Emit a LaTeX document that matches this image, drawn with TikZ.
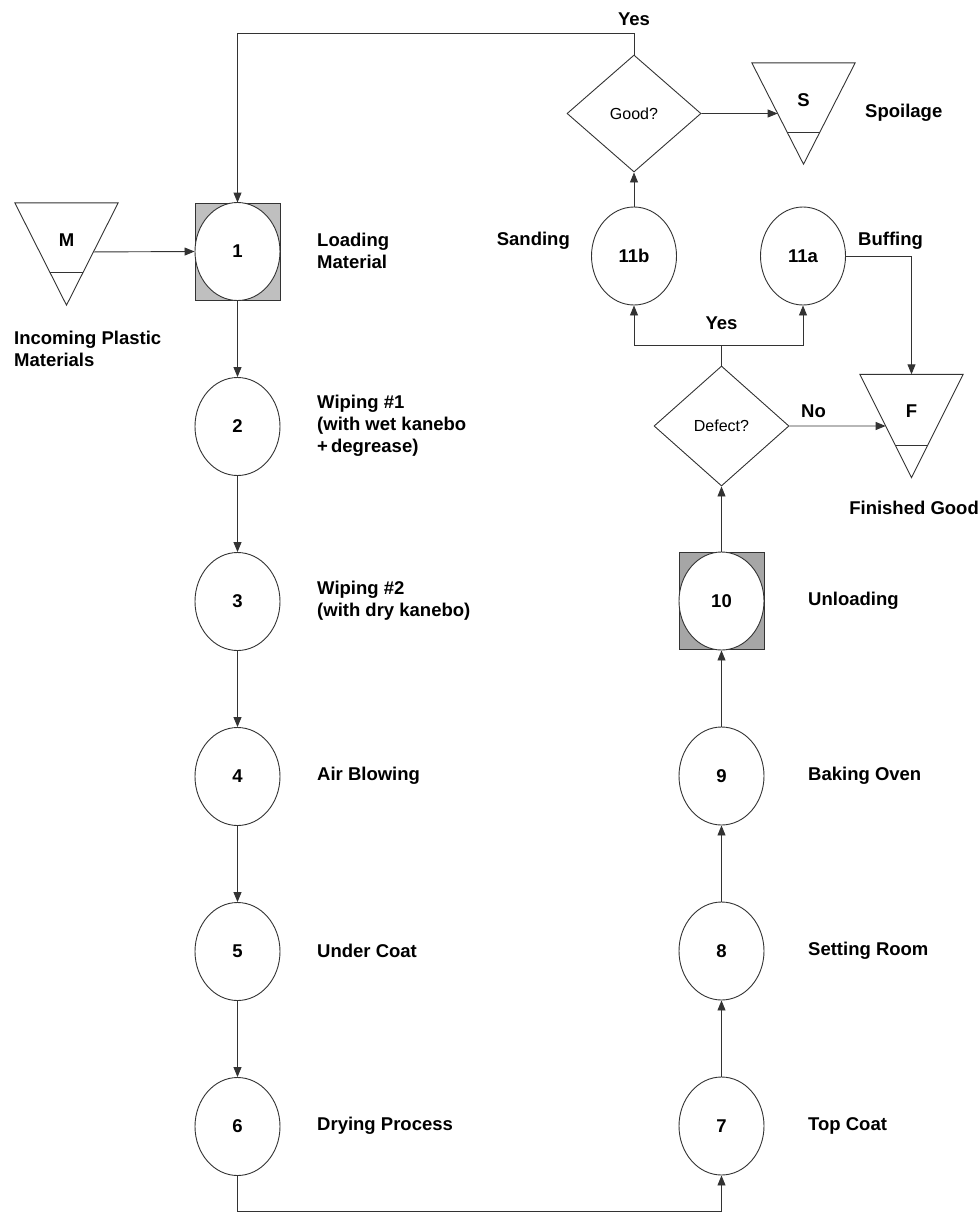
\documentclass[tikz,border=0pt]{standalone}
\usepackage{fontspec}
\setmainfont{Liberation Sans}
\usetikzlibrary{arrows.meta,shapes.geometric,positioning,calc}

\begin{document}
\begin{tikzpicture}[
    x=1pt, y=-1pt,
    proc/.style={draw=black!80, line width=0.9pt, ellipse, minimum width=85pt, minimum height=98pt, inner sep=0pt, fill=white, font=\bfseries\fontsize{18.5}{20}\selectfont},
    loadbox/.style={draw=black!80, line width=0.9pt, rectangle, minimum width=85pt, minimum height=97pt, inner sep=0pt},
    decision/.style={draw=black!80, line width=0.9pt, diamond, minimum width=135pt, minimum height=120pt, inner sep=0pt, font=\fontsize{16}{18}\selectfont},
    store/.style={minimum width=103pt, minimum height=102pt, inner sep=0pt},
    letter/.style={inner sep=0pt, font=\bfseries\fontsize{18.5}{20}\selectfont},
    note/.style={inner sep=0pt, align=left, font=\bfseries\fontsize{18.5}{22}\selectfont},
    link/.style={line width=0.9pt, draw=black!80},
    arrow/.style={link, -{Triangle[length=10pt, width=8pt]}}
]
\useasboundingbox (0,0) rectangle (980,1213);

% left column
\node[loadbox, fill=gray!50] (sq1) at (237.5,251.5) {};
\node[proc] (p1) at (sq1) {1};
\node[proc, below=76.1pt of p1] (p2) {2};
\node[proc, below=76.1pt of p2] (p3) {3};
\node[proc, below=76.1pt of p3] (p4) {4};
\node[proc, below=76.1pt of p4] (p5) {5};
\node[proc, below=76.1pt of p5] (p6) {6};

% right column
\node[loadbox, fill=gray!70] (sq10) at (721.5,601) {};
\node[proc] (p10) at (sq10) {10};
\node[proc, below=76.1pt of p10] (p9) {9};
\node[proc, below=76.1pt of p9] (p8) {8};
\node[proc, below=76.1pt of p8] (p7) {7};

\node[decision] (defect) at (721.5,426) {Defect?};
\node[proc] (p11b) at (634,256) {11b};
\node[proc] (p11a) at (803,256) {11a};
\node[decision, minimum width=134pt, minimum height=117pt] (good) at (634,113.5) {Good?};
\coordinate (base) at (480,1211);

% storage triangles
\node[store] (tM) at (66.5,254) {};
\draw[link] (tM.north west) -- (tM.north east) -- (tM.south) -- cycle;
\draw[link] ($(tM.south)!0.32!(tM.north west)$) -- ($(tM.south)!0.32!(tM.north east)$);
\node[letter] (lM) at ([yshift=-37pt]tM.north) {M};

\node[store, minimum height=101pt] (tS) at (803.5,113.5) {};
\draw[link] (tS.north west) -- (tS.north east) -- (tS.south) -- cycle;
\draw[link] ($(tS.south)!0.31!(tS.north west)$) -- ($(tS.south)!0.31!(tS.north east)$);
\node[letter] (lS) at ([yshift=-37pt]tS.north) {S};

\node[store, minimum height=103pt] (tF) at (911.5,426) {};
\draw[link] (tF.north west) -- (tF.north east) -- (tF.south) -- cycle;
\draw[link] ($(tF.south)!0.31!(tF.north west)$) -- ($(tF.south)!0.31!(tF.north east)$);
\node[letter] (lF) at ([yshift=-37pt]tF.north) {F};

% labels
\node[note, anchor=west] (n1) at (317,251) {Loading\\Material};
\node[note, anchor=west] (n2) at (317,426) {Wiping \#1\\(with wet kanebo\\+\,degrease)};
\node[note, anchor=west] (n3) at (317,601) {Wiping \#2\\(with dry kanebo)};
\node[note, anchor=west] (n4) at (317,776) {Air Blowing};
\node[note, anchor=west] (n5) at (317,951) {Under Coat};
\node[note, anchor=west] (n6) at (317,1126) {Drying Process};
\node[note, anchor=west] (n7) at (808,1126) {Top Coat};
\node[note, anchor=west] (n8) at (808,951) {Setting Room};
\node[note, anchor=west] (n9) at (808,776) {Baking Oven};
\node[note, anchor=west] (n10) at (808,601) {Unloading};
\node[note, anchor=east] (n11b) at (570,241) {Sanding};
\node[note, anchor=west] (n11a) at (858,241) {Buffing};
\node[note, anchor=west] (nS) at (865,113) {Spoilage};
\node[note, anchor=east] (nF) at (979,508) {Finished Good};
\node[note, anchor=west] (nM) at (14,349) {Incoming Plastic\\Materials};

% flow
\draw[arrow] ($(tM.south)!0.52!(tM.north east)$) -- (sq1.west);
\draw[arrow] (p1) -- (p2);
\draw[arrow] (p2) -- (p3);
\draw[arrow] (p3) -- (p4);
\draw[arrow] (p4) -- (p5);
\draw[arrow] (p5) -- (p6);
\draw[arrow] (p6.south) |- (base) -| (p7.south);
\draw[arrow] (p7) -- (p8);
\draw[arrow] (p8) -- (p9);
\draw[arrow] (p9) -- (p10);
\draw[arrow] (p10) -- (defect);
\draw[arrow] (defect.east) -- node[note, pos=0.25, above=8pt] (lNo) {No} ($(tF.south)!0.5!(tF.north west)$);
\draw[link] (defect.north) -- ++(0,-20) coordinate (fork) node[note, above=15pt] (lYes2) {Yes};
\draw[arrow] (fork) -| (p11b.south);
\draw[arrow] (fork) -| (p11a.south);
\draw[arrow] (p11a.east) -| (tF.north);
\draw[arrow] (p11b) -- (good);
\draw[arrow] (good.east) -- ($(tS.south)!0.5!(tS.north west)$);
\draw[arrow] (good.north) -- ++(0,-21) node[note, above=7pt] (lYes1) {Yes} -| (sq1.north);

\end{tikzpicture}
\end{document}
